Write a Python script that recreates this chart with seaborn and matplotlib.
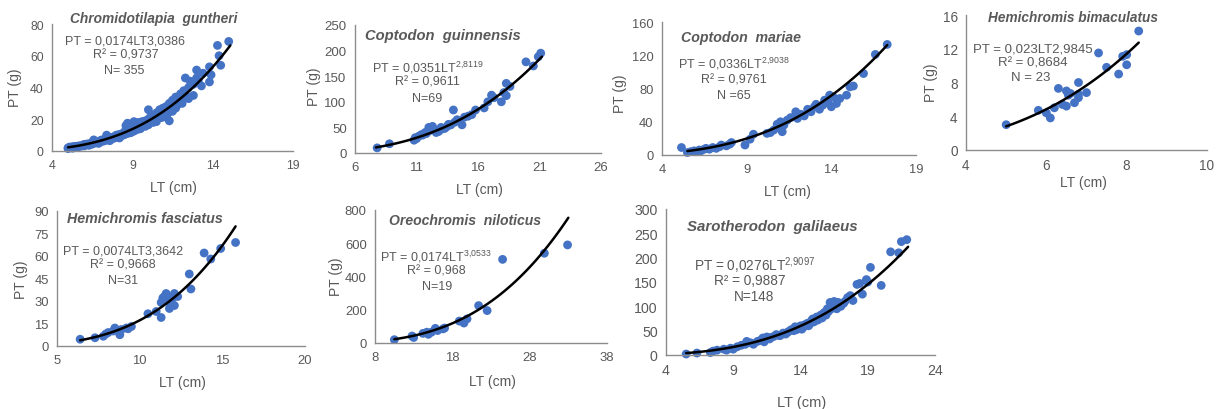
import matplotlib
matplotlib.use("Agg")
import matplotlib.pyplot as plt
import numpy as np
import seaborn as sns

# ---------------- data ----------------
titles = ["Chromidotilapia  guntheri", "Coptodon  guinnensis", "Coptodon  mariae",
          "Hemichromis bimaculatus", "Hemichromis fasciatus", "Oreochromis  niloticus",
          "Sarotherodon  galilaeus"]

coef_a = [0.0174, 0.0351, 0.0336, 0.023, 0.0074, 0.0174, 0.0276]
coef_b = [3.0386, 2.8119, 2.9038, 2.9845, 3.3642, 3.0533, 2.9097]
r2_labels = ["R² = 0,9737", "R² = 0,9611", "R² = 0,9761", "R² = 0,8684",
             "R² = 0,9668", "R² = 0,968", "R² = 0,9887"]
n_labels = ["N= 355", "N=69", "N =65", "N = 23", "N=31", "N=19", "N=148"]
curve_range = [(5.0, 15.1), (7.7, 21.2), (5.5, 17.3), (5.0, 8.3), (6.4, 15.8), (10.5, 33.0), (5.5, 22.0)]

x_ticks = [[4, 9, 14, 19], [6, 11, 16, 21, 26], [4, 9, 14, 19], [4, 6, 8, 10],
           [5, 10, 15, 20], [8, 18, 28, 38], [4, 9, 14, 19, 24]]
y_ticks = [[0, 20, 40, 60, 80], [0, 50, 100, 150, 200, 250], [0, 40, 80, 120, 160],
           [0, 4, 8, 12, 16], [0, 15, 30, 45, 60, 75, 90], [0, 200, 400, 600, 800],
           [0, 50, 100, 150, 200, 250, 300]]

guntheri_lt = [5.0, 5.0, 5.1, 5.2, 5.3, 5.3, 5.4, 5.5, 5.5, 5.6, 5.7, 5.8, 5.9, 6.0, 6.0, 6.1, 6.2, 6.3,
               6.4, 6.5, 6.5, 6.6, 6.7, 6.8, 6.9, 7.0, 7.0, 7.1, 7.2, 7.3, 7.4, 7.4, 7.5, 7.6, 7.7, 7.8,
               7.9, 8.0, 8.0, 8.1, 8.2, 8.3, 8.4, 8.5, 8.5, 8.6, 8.7, 8.7, 8.8, 8.8, 8.9, 9.0, 9.0, 9.1,
               9.1, 9.2, 9.3, 9.3, 9.4, 9.5, 9.5, 9.6, 9.7, 9.8, 9.9, 10.0, 10.0, 10.0, 10.1, 10.2, 10.3,
               10.4, 10.5, 10.5, 10.6, 10.7, 10.8, 10.9, 11.0, 11.0, 11.1, 11.2, 11.3, 11.3, 11.4, 11.5,
               11.5, 11.6, 11.7, 11.8, 11.9, 12.0, 12.0, 12.1, 12.2, 12.3, 12.3, 12.5, 12.6, 12.8, 12.8,
               13.0, 13.0, 13.1, 13.3, 13.4, 13.8, 13.8, 13.9, 14.3, 14.4, 14.5, 15.0,
               5.6, 6.3, 6.9, 7.6, 8.2, 8.9, 9.4, 9.8, 10.3, 10.8, 11.2, 11.7, 12.1, 12.5]
guntheri_pt = [2.0, 1.5, 2.5, 2.0, 2.8, 1.8, 2.5, 3.0, 2.2, 2.8, 3.3, 3.0, 3.6, 3.2, 4.2, 3.8, 4.5, 4.0,
               4.8, 4.3, 5.5, 7.0, 5.0, 5.8, 5.2, 6.5, 5.6, 7.0, 6.2, 7.5, 10.0, 6.8, 8.0, 7.2, 8.6, 7.8,
               9.2, 8.5, 10.0, 9.0, 10.5, 9.5, 11.0, 10.2, 12.0, 16.0, 17.5, 11.0, 13.0, 16.5, 12.0, 14.0,
               17.0, 18.5, 12.5, 15.0, 17.5, 13.5, 18.0, 16.0, 14.0, 18.5, 16.5, 19.0, 17.0, 26.0, 20.0,
               16.5, 21.0, 19.0, 22.5, 20.0, 24.0, 18.5, 22.0, 26.0, 23.5, 27.0, 25.0, 21.5, 28.0, 26.0,
               19.0, 30.0, 27.5, 32.0, 25.0, 30.0, 34.0, 29.0, 33.0, 31.0, 36.0, 34.0, 38.0, 46.0, 36.0,
               40.0, 44.0, 35.0, 42.0, 51.0, 46.0, 44.0, 41.0, 49.0, 43.5, 53.0, 48.0, 66.5, 60.0, 54.0,
               69.0,
               2.4, 3.6, 4.8, 6.5, 8.2, 11.5, 14.5, 15.5, 18.0, 21.0, 23.5, 27.0, 30.0, 33.0]

guinnensis_lt = [7.8, 8.8, 10.8, 10.9, 11.0, 11.2, 11.4, 11.5, 11.7, 11.8, 12.0, 12.1, 12.2, 12.3, 12.5,
                 12.6, 12.8, 13.0, 13.1, 13.3, 13.5, 13.6, 13.8, 14.0, 14.1, 14.3, 14.5, 14.7, 14.9, 15.2,
                 15.5, 15.8, 16.5, 16.8, 17.1, 17.3, 17.9, 18.1, 18.3, 18.3, 18.6, 19.9, 20.5, 20.9, 21.1]
guinnensis_pt = [10, 18, 25, 30, 28, 33, 36, 35, 40, 38, 50, 44, 48, 52, 45, 40, 42, 50, 47, 48, 52, 56,
                 55, 84, 60, 65, 62, 55, 70, 72, 75, 84, 88, 100, 113, 108, 100, 118, 136, 112, 130, 178,
                 170, 188, 195]

mariae_lt = [5.15, 5.5, 5.7, 5.9, 6.0, 6.2, 6.3, 6.5, 6.6, 6.8, 7.0, 7.2, 7.4, 7.5, 7.8, 8.0, 8.1, 8.9,
             9.2, 9.4, 10.2, 10.4, 10.6, 10.8, 10.9, 11.0, 11.1, 11.2, 11.4, 11.6, 11.9, 12.0, 12.2, 12.4,
             12.6, 12.8, 13.0, 13.1, 13.3, 13.5, 13.6, 13.8, 13.9, 14.0, 14.1, 14.3, 14.5, 14.9, 15.1,
             15.3, 15.9, 16.6, 17.3]
mariae_pt = [9, 3, 4, 5, 4, 6, 5, 7, 8, 7, 9, 8, 10, 12, 11, 13, 15, 12, 19, 25, 26, 27, 30, 37, 33, 40,
             28, 36, 42, 45, 52, 44, 49, 47, 55, 52, 58, 61, 55, 60, 66, 63, 72, 58, 70, 62, 68, 72, 82,
             83, 98, 121, 133]

bimaculatus_lt = [5.0, 5.8, 6.0, 6.1, 6.2, 6.3, 6.4, 6.5, 6.5, 6.55, 6.6, 6.7, 6.8, 6.8, 6.8, 7.0, 7.3,
                  7.5, 7.8, 7.9, 8.0, 8.0, 8.3]
bimaculatus_pt = [3.0, 4.7, 4.4, 3.8, 5.0, 7.3, 5.4, 7.0, 5.2, 6.5, 6.7, 5.6, 8.0, 6.2, 6.6, 6.8, 11.5,
                  9.8, 9.0, 11.1, 11.3, 10.1, 14.1]

fasciatus_lt = [6.4, 7.3, 7.8, 7.95, 8.1, 8.4, 8.5, 8.8, 8.9, 9.2, 9.3, 9.5, 10.5, 11.0, 11.3, 11.3, 11.4,
                11.5, 11.6, 11.7, 11.8, 12.0, 12.1, 12.1, 12.3, 13.0, 13.1, 13.9, 14.3, 14.9, 15.8]
fasciatus_pt = [4.5, 5.5, 6.5, 8.0, 9.0, 10.0, 12.0, 7.5, 11.0, 12.0, 11.5, 13.0, 21.5, 23.0, 19.0, 29.0,
                32.0, 33.0, 35.0, 30.0, 25.0, 32.0, 27.0, 35.0, 33.0, 48.0, 38.0, 62.0, 58.0, 65.0, 69.0]

niloticus_lt = [10.5, 12.8, 13.0, 14.2, 14.7, 14.9, 15.3, 15.8, 16.1, 16.8, 17.0, 18.9, 19.5, 19.9, 21.4,
                22.5, 24.5, 29.9, 32.9]
niloticus_pt = [20, 42, 33, 58, 65, 52, 65, 88, 75, 85, 90, 132, 120, 145, 225, 195, 503, 540, 590]

galilaeus_lt = [5.5, 6.3, 7.3, 7.5, 7.8, 8.3, 8.5, 8.8, 9.0, 9.3, 9.6, 9.9, 10.0, 10.3, 10.5, 10.8, 11.0,
                11.2, 11.3, 11.5, 11.7, 12.0, 12.2, 12.5, 12.7, 12.9, 13.1, 13.3, 13.5, 13.6, 13.8, 14.0,
                14.1, 14.3, 14.5, 14.6, 14.8, 14.9, 15.0, 15.2, 15.3, 15.5, 15.6, 15.8, 15.9, 16.0, 16.1,
                16.2, 16.3, 16.5, 16.6, 16.7, 16.8, 17.0, 17.3, 17.5, 17.7, 17.9, 18.2, 18.4, 18.6, 18.9,
                19.2, 19.0, 20.0, 20.7, 21.3, 21.5, 21.9,
                11.8, 12.4, 13.0, 13.7, 14.2, 14.7, 15.1, 15.4, 15.7, 16.4, 16.9, 17.2]
galilaeus_pt = [2, 4, 5, 8, 10, 12, 10, 14, 12, 17, 20, 22, 28, 25, 22, 28, 30, 35, 27, 37, 33, 38, 42,
                40, 45, 43, 48, 52, 50, 58, 55, 60, 53, 62, 65, 60, 70, 74, 68, 78, 72, 82, 76, 88, 82, 95,
                90, 108, 98, 110, 102, 95, 108, 100, 110, 118, 122, 112, 145, 147, 125, 155, 180, 150, 143,
                212, 210, 233, 237,
                36, 40, 46, 52, 57, 64, 71, 78, 85, 96, 104, 106]

series_lt = [guntheri_lt, guinnensis_lt, mariae_lt, bimaculatus_lt, fasciatus_lt, niloticus_lt, galilaeus_lt]
series_pt = [guntheri_pt, guinnensis_pt, mariae_pt, bimaculatus_pt, fasciatus_pt, niloticus_pt, galilaeus_pt]

# ---------------- style / layout ----------------
sns.set_style("white")
plt.rcParams['font.family'] = ['Liberation Sans', 'DejaVu Sans']
plt.rcParams['mathtext.fontset'] = 'custom'
plt.rcParams['mathtext.rm'] = 'Liberation Sans'
plt.rcParams['mathtext.it'] = 'Liberation Sans:italic'

W, H = 1225, 410
GRAY = "#595959"
SPINE = "#8C8C8C"
BLUE = "#4472C4"

fig = plt.figure(figsize=(W / 100, H / 100), dpi=100)

# axes boxes in pixels: left, top, right, bottom
boxes = [(52, 25, 293, 152), (355, 26, 601, 154), (662, 23, 916, 156), (966, 16, 1207, 151),
         (57, 212, 305, 347), (375, 211, 607, 344), (666, 210, 935, 356)]
tick_fs = [8.8, 9.5, 9.3, 9.8, 9.4, 9.4, 10.2]
text_fs = [9, 9, 9, 9.5, 9, 9, 9.8]
title_fs = [9.9, 10.6, 10.2, 9.8, 10.3, 10.1, 10.8]

title_pos = [(154, 19), (443, 36), (741, 38), (1073, 18), (145, 219), (465, 221), (772, 227)]
eq_pos = [(125, 41, 'center'), (372, 68, 'left'), (678, 64, 'left'), (1033, 49, 'center'),
          (123, 252, 'center'), (380, 257, 'left'), (694, 266, 'left')]
eq_super = [False, True, True, False, False, True, True]
r2_pos = [(126, 55), (427, 83), (734, 81), (1033, 64), (123, 266), (436, 272), (750, 281)]
n_pos = [(124, 71), (427, 99), (734, 96), (1031, 78), (123, 281), (437, 287), (754, 297)]
xlab_pos = [(173, 188), (479, 190), (787, 192), (1083, 183), (182, 383), (492, 382), (802, 403)]
ylab_pos = [(15, 88), (314, 87), (620, 94), (931, 83), (21, 280), (336, 277), None]
lab_fs = [10, 10, 10, 10, 10, 10, 10.5]


def ftext(x, y, s, **kw):
    return fig.text(x / W, 1 - y / H, s, **kw)


def fmt(v):
    return f"{v:g}".replace('.', ',')


for i in range(7):
    l, t, r, b = boxes[i]
    ax = fig.add_axes([l / W, 1 - b / H, (r - l) / W, (b - t) / H])
    ax.set_facecolor('none')
    sns.scatterplot(x=series_lt[i], y=series_pt[i], ax=ax, color=BLUE, s=40,
                    edgecolor='none', linewidth=0, zorder=2, clip_on=False)
    xc = np.linspace(curve_range[i][0], curve_range[i][1], 120)
    yc = coef_a[i] * xc ** coef_b[i]
    sns.lineplot(x=xc, y=yc, ax=ax, color='black', linewidth=1.8, zorder=3)
    ax.set_xlim(x_ticks[i][0], x_ticks[i][-1])
    ax.set_ylim(y_ticks[i][0], y_ticks[i][-1])
    ax.set_xticks(x_ticks[i])
    ax.set_yticks(y_ticks[i])
    ax.set_xlabel('')
    ax.set_ylabel('')
    for side in ['top', 'right']:
        ax.spines[side].set_visible(False)
    for side in ['left', 'bottom']:
        ax.spines[side].set_color(SPINE)
        ax.spines[side].set_linewidth(1.0)
    ax.tick_params(axis='both', direction='out', length=4, width=0.9, color=SPINE,
                   labelcolor=GRAY, labelsize=tick_fs[i], pad=2)

    tx, ty = title_pos[i]
    ftext(tx, ty, titles[i], ha='center', va='center', fontsize=title_fs[i],
          fontweight='bold', fontstyle='italic', color=GRAY)
    ex, ey, ea = eq_pos[i]
    if eq_super[i]:
        s = "PT = " + fmt(coef_a[i]) + "LT$^{" + fmt(coef_b[i]).replace(',', '{,}') + "}$"
    else:
        s = "PT = " + fmt(coef_a[i]) + "LT" + fmt(coef_b[i])
    ftext(ex, ey, s, ha=ea, va='center', fontsize=text_fs[i], color=GRAY)
    rx, ry = r2_pos[i]
    ftext(rx, ry, r2_labels[i], ha='center', va='center', fontsize=text_fs[i], color=GRAY)
    nx, ny = n_pos[i]
    ftext(nx, ny, n_labels[i], ha='center', va='center', fontsize=text_fs[i], color=GRAY)
    lx, ly = xlab_pos[i]
    ftext(lx, ly, "LT (cm)", ha='center', va='center', fontsize=lab_fs[i], color=GRAY)
    if ylab_pos[i] is not None:
        yx, yy = ylab_pos[i]
        ftext(yx, yy, "PT (g)", ha='center', va='center', rotation=90,
              fontsize=lab_fs[i], color=GRAY)

fig.savefig("out.png", dpi=100, facecolor='white')
